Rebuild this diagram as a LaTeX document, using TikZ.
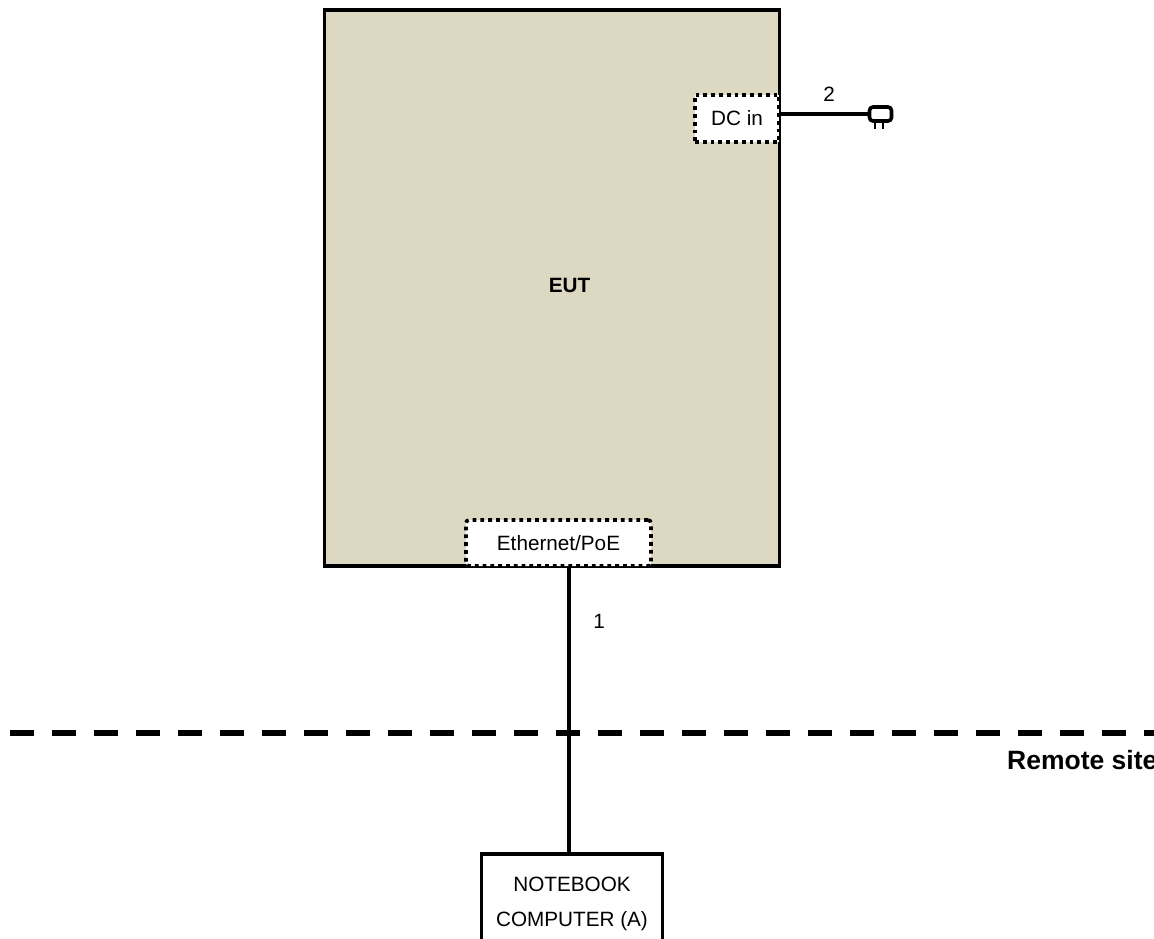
\documentclass[tikz,border=0pt]{standalone}
\usepackage{fontspec}
\setmainfont{Liberation Sans}
\tikzset{
  boxline/.style={draw=black,line width=3.6pt},
  eutbox/.style={boxline,fill=eutfill,minimum width=455pt,minimum height=556pt,inner sep=0pt},
  portbox/.style={draw=black,fill=white,line width=3.6pt,dash pattern=on 3.8pt off 4pt,inner sep=0pt,font=\fontsize{20.7}{24}\selectfont},
  lbl/.style={inner sep=0pt,font=\fontsize{20.7}{24}\selectfont},
  cable/.style={draw=black,line width=3.6pt},
  sitedash/.style={draw=black,line width=6pt,dash pattern=on 24pt off 18pt},
}
\definecolor{eutfill}{HTML}{DDD8C2}
\begin{document}
\begin{tikzpicture}[x=1pt,y=-1pt]
\useasboundingbox (0,0) rectangle (1154,938);
\clip (0,0) rectangle (1154,938);
\node[eutbox] (eut) at (552,288) {};
\node[inner sep=0pt,font=\bfseries\fontsize{20.7}{24}\selectfont] (eutl) at (569.5,285) {EUT};
\node[portbox,minimum width=84pt,minimum height=47pt] (dc) at (737,118.5) {DC in};
\node[portbox,rounded corners=3pt,minimum width=185pt,minimum height=46pt] (eth) at (558.5,543) {Ethernet/PoE};
\node[boxline,fill=white,minimum width=181pt,minimum height=100pt,inner sep=0pt,align=center,font=\fontsize{20.7}{35}\selectfont] (nb) at (572,904) {NOTEBOOK\\COMPUTER (A)};
\coordinate (ethout) at (569,566);
\coordinate (nbin) at (569,854);
\draw[cable] (ethout) -- (nbin);
\node[draw=black,fill=white,line width=3.6pt,rounded corners=3.5pt,minimum width=22pt,minimum height=14pt,inner sep=0pt] (plug) at (880.5,114) {};
\draw[cable] (dc.east |- plug.west) -- (plug.west);
\coordinate (p1) at (875,122);
\coordinate (p2) at (883,122);
\draw[line width=1.2pt] (p1) -- ++(0,7);
\draw[line width=1.2pt] (p2) -- ++(0,7);
\node[lbl] (l1) at (599,621) {1};
\node[lbl] (l2) at (829,94) {2};
\coordinate (dl) at (10,733);
\coordinate (dr) at (1154,733);
\draw[sitedash] (dl) -- (dr);
\node[anchor=west,inner sep=0pt,font=\bfseries\fontsize{26.5}{30}\selectfont] (site) at (1007,760) {Remote site};
\end{tikzpicture}
\end{document}
